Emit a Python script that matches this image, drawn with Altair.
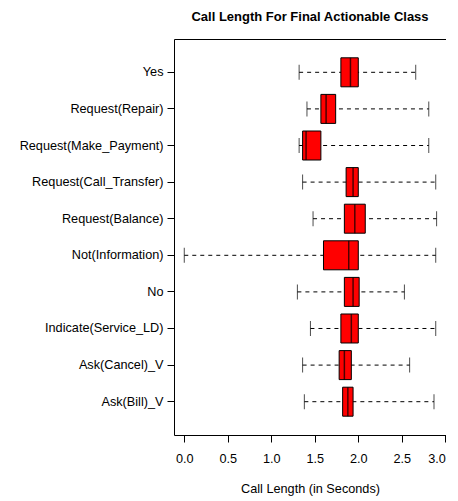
import altair as alt
import pandas as pd

cats = ["Yes", "Request(Repair)", "Request(Make_Payment)", "Request(Call_Transfer)",
        "Request(Balance)", "Not(Information)", "No", "Indicate(Service_LD)",
        "Ask(Cancel)_V", "Ask(Bill)_V"]
lo = [1.32, 1.41, 1.32, 1.36, 1.48, 0.00, 1.30, 1.45, 1.36, 1.38]
q1 = [1.80, 1.57, 1.36, 1.86, 1.84, 1.60, 1.84, 1.80, 1.78, 1.82]
med = [1.91, 1.63, 1.40, 1.94, 1.96, 1.89, 1.94, 1.92, 1.84, 1.88]
q3 = [2.00, 1.74, 1.57, 2.00, 2.08, 2.00, 2.01, 2.00, 1.92, 1.94]
hi = [2.66, 2.81, 2.81, 2.89, 2.90, 2.89, 2.53, 2.89, 2.59, 2.87]
xticks = [0.0, 0.5, 1.0, 1.5, 2.0, 2.5, 3.0]

df = pd.DataFrame({"cat": cats, "lo": lo, "q1": q1, "med": med, "q3": q3, "hi": hi})

FONT = "Liberation Sans"

Y = alt.Y("cat:N", sort=cats, title=None,
          scale=alt.Scale(paddingInner=0, paddingOuter=0.41),
          axis=alt.Axis(domain=False, tickSize=7, tickColor="black", labelColor="black",
                        labelFontSize=12.7, labelFont=FONT, labelPadding=4, labelLimit=300))
X = alt.X("lo:Q", title="Call Length (in Seconds)",
          scale=alt.Scale(domain=[-0.118, 3.008], nice=False, zero=False),
          axis=alt.Axis(values=xticks, format=".1f", grid=False, domain=False, tickSize=7,
                        tickColor="black", labelColor="black", labelFontSize=12.7,
                        labelFont=FONT, labelPadding=10, titleFont=FONT, titleFontSize=12.7,
                        titleFontWeight="normal", titleColor="black", titlePadding=18))

base = alt.Chart(df)

whisker = base.mark_rule(strokeDash=[4, 4], color="black", strokeWidth=1).encode(
    x=X, x2="hi:Q", y=Y)
cap_lo = base.mark_tick(orient="vertical", size=15, thickness=1, color="black").encode(
    x=alt.X("lo:Q"), y=alt.Y("cat:N", sort=cats))
cap_hi = base.mark_tick(orient="vertical", size=15, thickness=1, color="black").encode(
    x=alt.X("hi:Q"), y=alt.Y("cat:N", sort=cats))
box = base.mark_bar(size=29, color="#ff0000", stroke="black", strokeWidth=1).encode(
    x=alt.X("q1:Q"), x2="q3:Q", y=alt.Y("cat:N", sort=cats))
median = base.mark_tick(orient="vertical", size=29, thickness=1.5, color="black").encode(
    x=alt.X("med:Q"), y=alt.Y("cat:N", sort=cats))

chart = alt.layer(whisker, cap_lo, cap_hi, box, median).properties(
    width=272, height=396,
    title=alt.Title("Call Length For Final Actionable Class", font=FONT, fontSize=13,
                    fontWeight="bold", color="black", offset=15),
    padding={"left": 11, "top": 3, "right": 0, "bottom": 0},
).configure_view(stroke="black", strokeWidth=1)

chart.save("out.html", embed_options={"renderer": "svg", "actions": False})
